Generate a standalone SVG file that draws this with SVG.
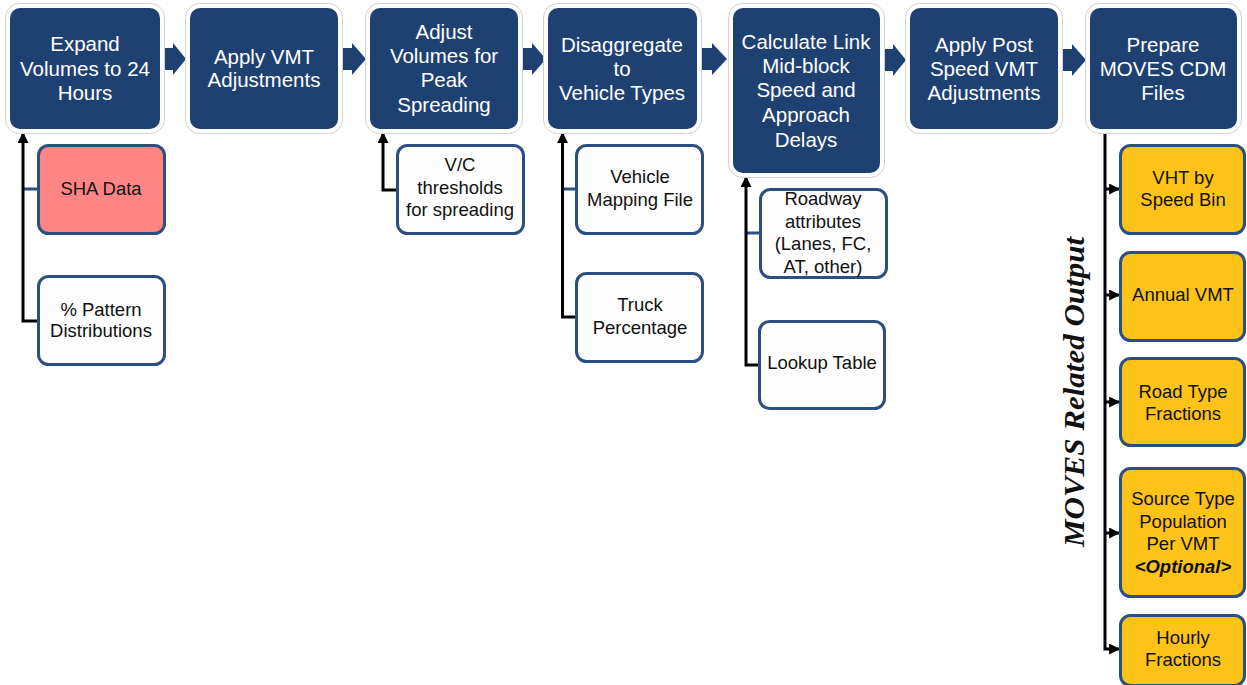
<svg xmlns="http://www.w3.org/2000/svg" width="1247" height="685" viewBox="0 0 1247 685">
<style>
.frame{fill:#ffffff;stroke:#d2d2d2;stroke-width:1}
.step{fill:#1f4172}
.st{fill:#ffffff;font-family:"Liberation Sans",Arial,sans-serif;font-size:20.5px;text-anchor:middle}
.inp{fill:#fdfdfd;stroke:#2b4f80;stroke-width:3}
.sha{fill:#ff8585;stroke:#2b4f80;stroke-width:3}
.out{fill:#fdc318;stroke:#2b4f80;stroke-width:3}
.it{fill:#111111;font-family:"Liberation Sans",Arial,sans-serif;font-size:18.5px;text-anchor:middle}
.flow{fill:#1f4172}
.line{fill:none;stroke:#000000;stroke-width:3}
.stub{fill:none;stroke:#2b4f80;stroke-width:3}
</style>
<defs>
<marker id="ah" viewBox="0 0 10 10" refX="9" refY="5" markerWidth="11" markerHeight="11" markerUnits="userSpaceOnUse" orient="auto">
<path d="M0,0 L10,5 L0,10 z" fill="#000000"/>
</marker>
</defs>
<rect width="1247" height="685" fill="#ffffff"/>

<g id="connectors">
<polygon class="flow" points="160,48 173,48 173,43 186,59 173,75 173,70 160,70"/>
<polygon class="flow" points="338,48 352,48 352,43 366,59 352,75 352,70 338,70"/>
<polygon class="flow" points="518,48 532,48 532,43 546,59 532,75 532,70 518,70"/>
<polygon class="flow" points="697,48 712,48 712,43 727,59 712,75 712,70 697,70"/>
<polygon class="flow" points="880,49 893,49 893,44 906,60 893,76 893,71 880,71"/>
<polygon class="flow" points="1058,49 1072,49 1072,44 1086,60 1072,76 1072,71 1058,71"/>

<path class="stub" d="M23,189 H38"/>
<path class="line" d="M38,321 H23 V133" marker-end="url(#ah)"/>
<path class="line" d="M397,190 H383 V133" marker-end="url(#ah)"/>
<path class="stub" d="M562.5,189 H576"/>
<path class="line" d="M576,317 H562.5 V133" marker-end="url(#ah)"/>
<path class="stub" d="M746,233 H761"/>
<path class="line" d="M759,365 H746 V177" marker-end="url(#ah)"/>
<path class="line" d="M1105,131 V649 H1119" marker-end="url(#ah)"/>
<path class="line" d="M1105,189 H1119" marker-end="url(#ah)"/>
<path class="line" d="M1105,295 H1119" marker-end="url(#ah)"/>
<path class="line" d="M1105,402 H1119" marker-end="url(#ah)"/>
<path class="line" d="M1105,533 H1119" marker-end="url(#ah)"/>
</g>

<g id="step1">
<rect class="frame" x="5.5" y="3.5" width="159" height="130" rx="14"/>
<rect class="step" x="10" y="8" width="150" height="121" rx="10"/>
<text class="st" x="85" y="51">Expand</text>
<text class="st" x="85" y="76">Volumes to 24</text>
<text class="st" x="85" y="100">Hours</text>
</g>
<g id="step2">
<rect class="frame" x="185.5" y="3.5" width="157" height="130" rx="14"/>
<rect class="step" x="190" y="8" width="148" height="121" rx="10"/>
<text class="st" x="264" y="64">Apply VMT</text>
<text class="st" x="264" y="87">Adjustments</text>
</g>
<g id="step3">
<rect class="frame" x="365.5" y="3.5" width="157" height="130" rx="14"/>
<rect class="step" x="370" y="8" width="148" height="121" rx="10"/>
<text class="st" x="444" y="39">Adjust</text>
<text class="st" x="444" y="63">Volumes for</text>
<text class="st" x="444" y="87">Peak</text>
<text class="st" x="444" y="112">Spreading</text>
</g>
<g id="step4">
<rect class="frame" x="543.5" y="3.5" width="158" height="130" rx="14"/>
<rect class="step" x="548" y="8" width="149" height="121" rx="10"/>
<text class="st" x="622" y="52">Disaggregate</text>
<text class="st" x="622" y="76">to</text>
<text class="st" x="622" y="100">Vehicle Types</text>
</g>
<g id="step5">
<rect class="frame" x="728.5" y="3.5" width="156" height="174" rx="14"/>
<rect class="step" x="733" y="8" width="147" height="165" rx="10"/>
<text class="st" x="806" y="49">Calculate Link</text>
<text class="st" x="806" y="73">Mid-block</text>
<text class="st" x="806" y="97">Speed and</text>
<text class="st" x="806" y="122">Approach</text>
<text class="st" x="806" y="147">Delays</text>
</g>
<g id="step6">
<rect class="frame" x="905.5" y="3.5" width="157" height="130" rx="14"/>
<rect class="step" x="910" y="8" width="148" height="121" rx="10"/>
<text class="st" x="984" y="52">Apply Post</text>
<text class="st" x="984" y="76">Speed VMT</text>
<text class="st" x="984" y="100">Adjustments</text>
</g>
<g id="step7">
<rect class="frame" x="1085.5" y="3.5" width="156" height="130" rx="14"/>
<rect class="step" x="1090" y="8" width="147" height="121" rx="10"/>
<text class="st" x="1163" y="52">Prepare</text>
<text class="st" x="1163" y="76">MOVES CDM</text>
<text class="st" x="1163" y="100">Files</text>
</g>

<g id="sha-data">
<rect class="sha" x="38.5" y="145.5" width="126" height="88" rx="10"/>
<text class="it" x="101" y="195">SHA Data</text>
</g>
<g id="pattern">
<rect class="inp" x="38.5" y="276.5" width="126" height="88" rx="10"/>
<text class="it" x="101" y="316">% Pattern</text>
<text class="it" x="101" y="337">Distributions</text>
</g>
<g id="vc">
<rect class="inp" x="397.5" y="145.5" width="126" height="88" rx="10"/>
<text class="it" x="460" y="171">V/C</text>
<text class="it" x="460" y="194">thresholds</text>
<text class="it" x="460" y="216">for spreading</text>
</g>
<g id="vehmap">
<rect class="inp" x="576.5" y="145.5" width="126" height="88" rx="10"/>
<text class="it" x="640" y="183">Vehicle</text>
<text class="it" x="640" y="206">Mapping File</text>
</g>
<g id="truck">
<rect class="inp" x="576.5" y="273.5" width="126" height="88" rx="10"/>
<text class="it" x="640" y="311">Truck</text>
<text class="it" x="640" y="334">Percentage</text>
</g>
<g id="roadway">
<rect class="inp" x="760.5" y="189.5" width="126" height="88" rx="10"/>
<text class="it" x="823" y="205">Roadway</text>
<text class="it" x="823" y="228">attributes</text>
<text class="it" x="823" y="250">(Lanes, FC,</text>
<text class="it" x="823" y="273">AT, other)</text>
</g>
<g id="lookup">
<rect class="inp" x="759.5" y="321.5" width="125" height="87" rx="10"/>
<text class="it" x="822" y="369">Lookup Table</text>
</g>

<g id="vht">
<rect class="out" x="1120.5" y="145.5" width="124" height="88" rx="10"/>
<text class="it" x="1183" y="184">VHT by</text>
<text class="it" x="1183" y="206">Speed Bin</text>
</g>
<g id="annual">
<rect class="out" x="1120.5" y="252.5" width="124" height="88" rx="10"/>
<text class="it" x="1183" y="301">Annual VMT</text>
</g>
<g id="roadtype">
<rect class="out" x="1120.5" y="358.5" width="124" height="87" rx="10"/>
<text class="it" x="1183" y="398">Road Type</text>
<text class="it" x="1183" y="420">Fractions</text>
</g>
<g id="sourcetype">
<rect class="out" x="1120.5" y="468.5" width="124" height="128" rx="10"/>
<text class="it" x="1183" y="505">Source Type</text>
<text class="it" x="1183" y="528">Population</text>
<text class="it" x="1183" y="550">Per VMT</text>
<text class="it" x="1183" y="573" font-weight="bold" font-style="italic">&lt;Optional&gt;</text>
</g>
<g id="hourly">
<rect class="out" x="1120.5" y="615.5" width="124" height="70" rx="10"/>
<text class="it" x="1183" y="644">Hourly</text>
<text class="it" x="1183" y="666">Fractions</text>
</g>

<g id="label">
<text transform="translate(1084,392) rotate(-90)" font-family="'Liberation Serif','Times New Roman',serif" font-size="29" font-weight="bold" font-style="italic" text-anchor="middle" fill="#111111" textLength="310" lengthAdjust="spacingAndGlyphs">MOVES Related Output</text>
</g>
</svg>
